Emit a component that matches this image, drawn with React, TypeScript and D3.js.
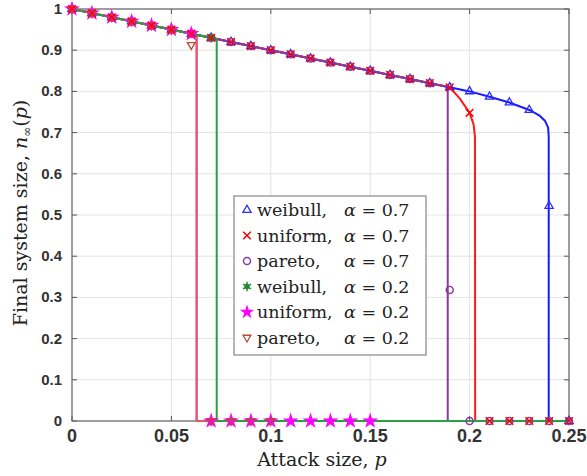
import React from "react";
import * as d3 from "d3";

const W = 587, H = 476;
const X0 = 72, X1 = 569, Y0 = 421, Y1 = 9;

const xTicks = [0, 0.05, 0.1, 0.15, 0.2, 0.25];
const xTickLabels = ["0", "0.05", "0.1", "0.15", "0.2", "0.25"];
const yTicks = [0, 0.1, 0.2, 0.3, 0.4, 0.5, 0.6, 0.7, 0.8, 0.9, 1];
const yTickLabels = ["0", "0.1", "0.2", "0.3", "0.4", "0.5", "0.6", "0.7", "0.8", "0.9", "1"];

// attack sizes sampled for markers
const pGrid = [0, 0.01, 0.02, 0.03, 0.04, 0.05, 0.06, 0.07, 0.08, 0.09, 0.1, 0.11, 0.12, 0.13, 0.14, 0.15, 0.16, 0.17, 0.18, 0.19, 0.2, 0.21, 0.22, 0.23, 0.24, 0.25];

// Weibull alpha=0.7
const weibull07Marks = [1, 0.99, 0.98, 0.97, 0.96, 0.95, 0.94, 0.93, 0.92, 0.91, 0.9, 0.89, 0.88, 0.87, 0.86, 0.85, 0.84, 0.83, 0.82, 0.81, 0.8, 0.787, 0.773, 0.755, 0.522, 0];
const weibull07LineP = [0, 0.01, 0.02, 0.03, 0.04, 0.05, 0.06, 0.07, 0.08, 0.09, 0.1, 0.11, 0.12, 0.13, 0.14, 0.15, 0.16, 0.17, 0.18, 0.19, 0.2, 0.21, 0.22, 0.23, 0.235, 0.238, 0.2395, 0.2398, 0.2398, 0.25];
const weibull07LineN = [1, 0.99, 0.98, 0.97, 0.96, 0.95, 0.94, 0.93, 0.92, 0.91, 0.9, 0.89, 0.88, 0.87, 0.86, 0.85, 0.84, 0.83, 0.82, 0.81, 0.8, 0.787, 0.773, 0.755, 0.742, 0.728, 0.712, 0.69, 0, 0];

// Uniform alpha=0.7
const uniform07Marks = [1, 0.99, 0.98, 0.97, 0.96, 0.95, 0.94, 0.93, 0.92, 0.91, 0.9, 0.89, 0.88, 0.87, 0.86, 0.85, 0.84, 0.83, 0.82, 0.81, 0.748, 0, 0, 0, 0, 0];
const uniform07LineP = [0, 0.01, 0.02, 0.03, 0.04, 0.05, 0.06, 0.07, 0.08, 0.09, 0.1, 0.11, 0.12, 0.13, 0.14, 0.15, 0.16, 0.17, 0.18, 0.19, 0.195, 0.2, 0.202, 0.2027, 0.2028, 0.25];
const uniform07LineN = [1, 0.99, 0.98, 0.97, 0.96, 0.95, 0.94, 0.93, 0.92, 0.91, 0.9, 0.89, 0.88, 0.87, 0.86, 0.85, 0.84, 0.83, 0.82, 0.81, 0.783, 0.748, 0.72, 0.69, 0, 0];

// Pareto alpha=0.7
const pareto07Marks = [1, 0.99, 0.98, 0.97, 0.96, 0.95, 0.94, 0.93, 0.92, 0.91, 0.9, 0.89, 0.88, 0.87, 0.86, 0.85, 0.84, 0.83, 0.82, 0.318, 0, 0, 0, 0, 0, 0];
const pareto07LineP = [0, 0.01, 0.02, 0.03, 0.04, 0.05, 0.06, 0.07, 0.08, 0.09, 0.1, 0.11, 0.12, 0.13, 0.14, 0.15, 0.16, 0.17, 0.18, 0.189, 0.189, 0.25];
const pareto07LineN = [1, 0.99, 0.98, 0.97, 0.96, 0.95, 0.94, 0.93, 0.92, 0.91, 0.9, 0.89, 0.88, 0.87, 0.86, 0.85, 0.84, 0.83, 0.82, 0.811, 0, 0];

// Weibull alpha=0.2
const weibull02Marks = [1, 0.99, 0.98, 0.97, 0.96, 0.95, 0.94, 0.93];
const weibull02LineP = [0, 0.01, 0.02, 0.03, 0.04, 0.05, 0.06, 0.07, 0.0728, 0.0728, 0.25];
const weibull02LineN = [1, 0.99, 0.98, 0.97, 0.96, 0.95, 0.94, 0.93, 0.927, 0, 0];

// Uniform alpha=0.2
const uniform02Marks = [1, 0.99, 0.98, 0.97, 0.96, 0.95, 0.94, 0, 0, 0, 0, 0, 0, 0, 0, 0];
const uniform02LineP = [0, 0.01, 0.02, 0.03, 0.04, 0.05, 0.06, 0.0627, 0.0627, 0.15];
const uniform02LineN = [1, 0.99, 0.98, 0.97, 0.96, 0.95, 0.94, 0.937, 0, 0];

// Pareto alpha=0.2
const pareto02Marks = [1, 0.99, 0.98, 0.97, 0.96, 0.95, 0.913, 0, 0, 0, 0];
const pareto02LineP = [0, 0.01, 0.02, 0.03, 0.04, 0.05, 0.06, 0.0627, 0.0627, 0.1];
const pareto02LineN = [1, 0.99, 0.98, 0.97, 0.96, 0.95, 0.94, 0.937, 0, 0];

type Sym = "tri" | "x" | "circle" | "asterisk" | "star" | "tridown";

const series = [
  { name: "weibull07", color: "#1a1aff", mcolor: "#2a2aff", sym: "tri" as Sym, lp: weibull07LineP, ln: weibull07LineN, mk: weibull07Marks },
  { name: "uniform07", color: "#ff1a1a", mcolor: "#ff0000", sym: "x" as Sym, lp: uniform07LineP, ln: uniform07LineN, mk: uniform07Marks },
  { name: "pareto07", color: "#8a3a9e", mcolor: "#8a3a9e", sym: "circle" as Sym, lp: pareto07LineP, ln: pareto07LineN, mk: pareto07Marks },
  { name: "uniform02", color: "#ff33cc", mcolor: "#ff00ff", sym: "star" as Sym, lp: uniform02LineP, ln: uniform02LineN, mk: uniform02Marks },
  { name: "pareto02", color: "#e05a62", mcolor: "#b84a2e", sym: "tridown" as Sym, lp: pareto02LineP, ln: pareto02LineN, mk: pareto02Marks },
  { name: "weibull02", color: "#2aa040", mcolor: "#1f8a33", sym: "asterisk" as Sym, lp: weibull02LineP, ln: weibull02LineN, mk: weibull02Marks },
];
const markerDrawOrder = ["weibull07", "pareto07", "weibull02", "uniform02", "pareto02", "uniform07"];

const legendNames = ["weibull,", "uniform,", "pareto,", "weibull,", "uniform,", "pareto,"];
const legendAlpha = ["0.7", "0.7", "0.7", "0.2", "0.2", "0.2"];
const legendSeriesOrder = ["weibull07", "uniform07", "pareto07", "weibull02", "uniform02", "pareto02"];

function Marker({ sym, color, x, y, small }: { sym: Sym; color: string; x: number; y: number; small?: boolean }) {
  const t = `translate(${x},${y})`;
  if (sym === "tri") {
    return <path transform={t} d={d3.symbol(d3.symbolTriangle2, 48)()!} fill="none" stroke={color} strokeWidth={1.3} />;
  }
  if (sym === "tridown") {
    return <path transform={t + " rotate(180)"} d={d3.symbol(d3.symbolTriangle2, 44)()!} fill="none" stroke={color} strokeWidth={1.3} />;
  }
  if (sym === "x") {
    return <path transform={t} d={d3.symbol(d3.symbolTimes, 40)()!} fill="none" stroke={color} strokeWidth={1.5} />;
  }
  if (sym === "circle") {
    return <path transform={t} d={d3.symbol(d3.symbolCircle, 40)()!} fill="none" stroke={color} strokeWidth={1.4} />;
  }
  if (sym === "asterisk") {
    return (
      <g transform={t}>
        <path d={d3.symbol(d3.symbolCircle, 22)()!} fill={color} />
        <path d={d3.symbol(d3.symbolAsterisk, 60)()!} fill="none" stroke={color} strokeWidth={1.4} />
      </g>
    );
  }
  return <path transform={t} d={d3.symbol(d3.symbolStar, small ? 65 : 80)()!} fill={color} stroke="none" />;
}

export default function App() {
  const x = d3.scaleLinear().domain([0, 0.25]).range([X0, X1]);
  const y = d3.scaleLinear().domain([0, 1]).range([Y0, Y1]);
  const line = d3.line<[number, number]>().x((d) => x(d[0])).y((d) => y(d[1]));

  const legX0 = 234, legY0 = 196, legW = 192, legH = 159;
  const rowH = 25.5;

  return (
    <svg width={W} height={H} style={{ position: "absolute", left: 0, top: 0, background: "#fff" }}>
      <rect x={0} y={0} width={W} height={H} fill="#fff" />
      {/* grid */}
      {xTicks.map((t, i) => (
        <line key={"gx" + i} x1={x(t)} x2={x(t)} y1={Y1} y2={Y0} stroke="#e3e3e3" strokeWidth={1} />
      ))}
      {yTicks.map((t, i) => (
        <line key={"gy" + i} x1={X0} x2={X1} y1={y(t)} y2={y(t)} stroke="#e3e3e3" strokeWidth={1} />
      ))}
      {/* ticks */}
      {xTicks.map((t, i) => (
        <g key={"tx" + i}>
          <line x1={x(t)} x2={x(t)} y1={Y0} y2={Y0 - 5} stroke="#555" />
          <line x1={x(t)} x2={x(t)} y1={Y1} y2={Y1 + 5} stroke="#555" />
        </g>
      ))}
      {yTicks.map((t, i) => (
        <g key={"ty" + i}>
          <line x1={X0} x2={X0 + 5} y1={y(t)} y2={y(t)} stroke="#555" />
          <line x1={X1} x2={X1 - 5} y1={y(t)} y2={y(t)} stroke="#555" />
        </g>
      ))}
      {/* frame */}
      <rect x={X0} y={Y1} width={X1 - X0} height={Y0 - Y1} fill="none" stroke="#666" strokeWidth={1.2} />

      {/* lines */}
      {series.map((s) => (
        <path
          key={"l" + s.name}
          d={line(s.lp.map((p, i) => [p, s.ln[i]] as [number, number]))!}
          fill="none"
          stroke={s.color}
          strokeWidth={2}
          strokeLinejoin="round"
        />
      ))}
      {/* markers */}
      {markerDrawOrder.map((nm) => {
        const s = series.find((q) => q.name === nm)!;
        return (
          <g key={"m" + s.name}>
            {s.mk.map((v, i) => (
              <Marker key={i} sym={s.sym} color={s.mcolor} x={x(pGrid[i])} y={y(v)} />
            ))}
          </g>
        );
      })}

      {/* tick labels */}
      <g fontFamily="Liberation Sans, Arial, sans-serif" fill="#333" fontWeight="bold">
        {xTicks.map((t, i) => (
          <text key={"xl" + i} x={x(t)} y={442} textAnchor="middle" fontSize={18}>
            {xTickLabels[i]}
          </text>
        ))}
        {yTicks.map((t, i) => (
          <text key={"yl" + i} x={62} y={y(t) + 5} textAnchor="end" fontSize={15}>
            {yTickLabels[i]}
          </text>
        ))}
      </g>

      {/* axis labels */}
      <text x={322} y={466} textAnchor="middle" fontFamily="DejaVu Serif, serif" fontSize={19} fill="#222">
        Attack size, <tspan fontStyle="italic">p</tspan>
      </text>
      <text
        transform={`translate(27,${213}) rotate(-90)`}
        textAnchor="middle"
        fontFamily="DejaVu Serif, serif"
        fontSize={19}
        fill="#222"
      >
        Final system size, <tspan fontStyle="italic">n</tspan>
        <tspan fontSize={12} dy={4}>∞</tspan>
        <tspan dy={-4}>(</tspan>
        <tspan fontStyle="italic">p</tspan>)
      </text>

      {/* legend */}
      <rect x={legX0} y={legY0} width={legW} height={legH} fill="#fff" stroke="#888" strokeWidth={1.2} />
      {legendSeriesOrder.map((nm, i) => {
        const s = series.find((q) => q.name === nm)!;
        const cy = legY0 + 14 + i * rowH;
        return (
          <g key={"lg" + i}>
            <Marker sym={s.sym} color={s.mcolor} x={247} y={cy} small />
            <text x={257} y={cy + 6} fontFamily="DejaVu Serif, serif" fontSize={17.5} fill="#222">
              {legendNames[i]}
            </text>
            <text x={344} y={cy + 6} fontFamily="DejaVu Serif, serif" fontSize={17.5} fill="#222">
              <tspan fontStyle="italic">α</tspan> = {legendAlpha[i]}
            </text>
          </g>
        );
      })}
    </svg>
  );
}
